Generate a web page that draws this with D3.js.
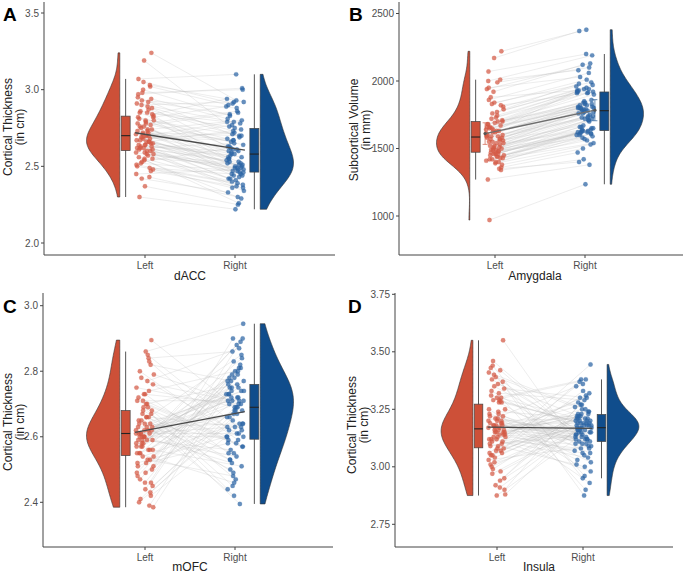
<!DOCTYPE html>
<html>
<head>
<meta charset="utf-8">
<script src="https://cdn.jsdelivr.net/npm/d3@7"></script>
<style>
  body { margin: 0; background: #fff; }
  text { font-family: "Liberation Sans", Arial, sans-serif; }
</style>
</head>
<body>
<svg id="chart" width="685" height="575"></svg>
<script>
// ---- data (paired by index: left[i] <-> right[i]) ----
const sides = ['Left', 'Right'];

const daccLeft = [2.71, 2.85, 2.62, 3.24, 2.55, 2.78, 2.66, 2.93, 2.48, 2.70,
  2.81, 2.60, 3.05, 2.67, 2.74, 2.52, 2.88, 2.64, 2.97, 2.43,
  2.69, 2.83, 2.58, 2.76, 2.65, 3.19, 2.50, 2.72, 2.90, 2.61,
  2.79, 2.56, 2.68, 3.00, 2.45, 2.73, 2.86, 2.63, 2.59, 2.95,
  2.70, 2.53, 2.82, 2.66, 2.30, 2.77, 2.62, 2.91, 2.57, 2.75,
  2.84, 2.64, 3.07, 2.49, 2.71, 2.80, 2.60, 2.67, 2.94, 2.54,
  2.73, 2.87, 2.42, 2.65, 2.78, 2.61, 3.02, 2.68, 2.51, 2.89,
  2.63, 2.74, 2.37, 2.82, 2.66, 2.98, 2.58, 2.70, 2.85, 2.47,
  2.76, 2.62, 2.92, 2.69, 2.55, 2.80, 2.64, 3.03, 2.72, 2.59];
const daccRight = [2.58, 2.79, 2.45, 2.93, 2.40, 2.52, 2.74, 2.88, 2.36, 2.63,
  2.70, 2.49, 2.91, 2.56, 2.80, 2.47, 2.61, 2.42, 3.01, 2.30,
  2.67, 2.55, 2.51, 2.85, 2.44, 2.76, 2.38, 2.60, 2.92, 2.53,
  2.64, 2.26, 2.72, 2.83, 2.48, 2.43, 2.75, 2.57, 2.34, 2.69,
  2.50, 2.62, 2.89, 2.46, 2.22, 2.66, 2.54, 2.78, 2.41, 2.59,
  2.94, 2.52, 3.10, 2.45, 2.68, 2.49, 2.37, 2.77, 2.81, 2.29,
  2.61, 2.71, 2.33, 2.56, 2.86, 2.47, 2.90, 2.50, 2.39, 2.73,
  2.60, 2.44, 2.25, 2.67, 2.55, 3.00, 2.48, 2.79, 2.63, 2.36,
  2.53, 2.65, 2.84, 2.46, 2.51, 2.58, 2.42, 2.92, 2.70, 2.49];

const amygLeft = [1610, 1745, 1450, 2220, 1520, 1680, 1400, 1830, 1560, 1490,
  1650, 1430, 1920, 1590, 1700, 1470, 1380, 1620, 2000, 1510,
  1550, 1790, 1440, 1660, 1340, 2170, 1580, 1480, 1720, 1600,
  1460, 1860, 1530, 1640, 1410, 1990, 1570, 1500, 1690, 1270,
  1630, 1420, 1810, 1540, 970, 1670, 1460, 1940, 1590, 1490,
  1710, 1390, 2070, 1560, 1620, 1450, 1770, 1520, 1360, 1840,
  1600, 1480, 1650, 1430, 1730, 1550, 2010, 1500, 1610, 1440,
  1880, 1580, 1470, 1680, 1350, 1760, 1540, 1630, 1420, 1820,
  1510, 1660, 1460, 1590, 1700, 1400, 1950, 1570, 1490, 1640];
const amygRight = [1790, 1920, 1640, 2380, 1630, 1920, 1610, 2010, 1780, 1620,
  1860, 1560, 2120, 1810, 1830, 1620, 1500, 1760, 2190, 1730,
  1670, 1980, 1590, 1915, 1420, 2370, 1740, 1710, 1940, 1800,
  1650, 2060, 1770, 1820, 1540, 2100, 1720, 1610, 1900, 1380,
  1840, 1620, 1960, 1750, 1235, 1800, 1600, 2130, 1790, 1660,
  1910, 1530, 2200, 1730, 1930, 1610, 1950, 1640, 1470, 1990,
  1820, 1580, 1800, 1650, 1910, 1760, 2080, 1720, 1780, 1630,
  1930, 1810, 1630, 1840, 1400, 1970, 1740, 1790, 1600, 1920,
  1710, 1850, 1660, 1770, 1940, 1570, 2030, 1800, 1700, 1830];
const amygErrHalf = [80, 78];

const mofcLeft = [2.62, 2.70, 2.55, 2.895, 2.60, 2.48, 2.66, 2.58, 2.76, 2.52,
  2.64, 2.43, 2.69, 2.57, 2.85, 2.61, 2.50, 2.73, 2.59, 2.39,
  2.67, 2.54, 2.63, 2.80, 2.46, 2.60, 2.71, 2.56, 2.65, 2.45,
  2.86, 2.61, 2.53, 2.68, 2.58, 2.77, 2.41, 2.62, 2.64, 2.51,
  2.74, 2.59, 2.385, 2.66, 2.55, 2.82, 2.60, 2.49, 2.69, 2.57,
  2.63, 2.44, 2.72, 2.61, 2.54, 2.79, 2.59, 2.47, 2.67, 2.62,
  2.52, 2.84, 2.60, 2.56, 2.70, 2.40, 2.64, 2.58, 2.75, 2.53,
  2.61, 2.68, 2.46, 2.63, 2.83, 2.57, 2.51, 2.66, 2.60, 2.42,
  2.73, 2.55, 2.62, 2.78, 2.59, 2.49, 2.65, 2.56, 2.71, 2.61];
const mofcRight = [2.74, 2.60, 2.81, 2.69, 2.52, 2.77, 2.63, 2.88, 2.71, 2.58,
  2.85, 2.67, 2.45, 2.76, 2.62, 2.72, 2.90, 2.55, 2.68, 2.79,
  2.49, 2.73, 2.64, 2.59, 2.83, 2.70, 2.57, 2.75, 2.42, 2.66,
  2.945, 2.61, 2.78, 2.53, 2.71, 2.87, 2.69, 2.50, 2.74, 2.64,
  2.80, 2.56, 2.73, 2.395, 2.68, 2.77, 2.60, 2.82, 2.47, 2.72,
  2.66, 2.89, 2.58, 2.75, 2.63, 2.70, 2.54, 2.79, 2.44, 2.74,
  2.61, 2.86, 2.71, 2.51, 2.76, 2.65, 2.59, 2.84, 2.69, 2.48,
  2.73, 2.57, 2.80, 2.67, 2.62, 2.90, 2.72, 2.55, 2.78, 2.64,
  2.70, 2.46, 2.75, 2.60, 2.81, 2.68, 2.53, 2.77, 2.71, 2.63];

const insulaLeft = [3.17, 3.28, 3.05, 3.55, 3.12, 3.22, 2.98, 3.40, 3.15, 3.09,
  3.33, 3.19, 2.92, 3.25, 3.14, 3.46, 3.08, 3.20, 3.01, 3.30,
  3.16, 2.88, 3.23, 3.11, 3.37, 3.18, 3.06, 3.42, 3.13, 2.95,
  3.21, 3.31, 3.10, 3.17, 3.03, 3.29, 3.44, 3.15, 2.875, 3.19,
  3.07, 3.35, 3.14, 3.24, 3.00, 3.18, 3.39, 3.12, 2.91, 3.29,
  3.16, 3.08, 3.43, 3.20, 3.04, 3.13, 3.32, 2.97, 3.22, 3.15,
  3.10, 3.285, 3.18, 2.90, 3.36, 3.12, 3.06, 3.21, 3.41, 3.17,
  2.99, 3.14, 3.30, 3.09, 3.19, 3.02, 3.25, 3.16, 3.38, 3.11,
  3.07, 3.23, 2.94, 3.18, 3.34, 3.13, 3.05, 3.28, 3.15, 3.20];
const insulaRight = [3.20, 3.10, 3.24, 3.05, 3.30, 3.14, 3.18, 2.96, 3.22, 3.35,
  3.08, 3.16, 3.27, 3.01, 3.19, 3.12, 3.38, 3.21, 3.15, 2.90,
  3.23, 3.17, 3.06, 3.31, 3.13, 3.19, 3.445, 3.10, 3.25, 3.16,
  3.02, 3.20, 3.14, 3.28, 3.09, 3.18, 2.95, 3.22, 3.17, 3.12,
  3.33, 3.15, 3.07, 3.21, 3.19, 3.11, 3.26, 3.04, 3.18, 3.37,
  3.13, 3.23, 2.875, 3.16, 3.20, 3.09, 3.29, 3.17, 3.12, 3.24,
  3.00, 3.19, 3.14, 3.32, 3.21, 3.08, 3.18, 2.93, 3.25, 3.15,
  3.22, 3.11, 3.38, 3.17, 3.03, 3.20, 3.13, 3.27, 3.16, 2.98,
  3.19, 3.10, 3.23, 3.15, 3.30, 3.06, 3.21, 3.18, 3.12, 3.36];

const daccTicks = [2.0, 2.5, 3.0, 3.5];
const amygTicks = [1000, 1500, 2000, 2500];
const mofcTicks = [2.4, 2.6, 2.8, 3.0];
const insulaTicks = [2.75, 3.00, 3.25, 3.50, 3.75];

// ---- layout per panel ----
const panels = [
  { tag: 'A', xLabel: 'dACC', yLabel: ['Cortical Thickness', '(in cm)'],
    left: daccLeft, right: daccRight, ticks: daccTicks, fmt: '.1f', err: null,
    plot: [44, 335, 2, 255], cats: [145, 235], yRef: [243, 13],
    yTitle: [8, 20, 127], xTitle: [190, 280], letter: [3, 21] },
  { tag: 'B', xLabel: 'Amygdala', yLabel: ['Subcortical Volume', '(in mm)'],
    left: amygLeft, right: amygRight, ticks: amygTicks, fmt: 'd', err: amygErrHalf,
    plot: [399, 683, 2, 255], cats: [495, 585], yRef: [216, 13.5],
    yTitle: [354, 366, 130], xTitle: [535, 280], letter: [349, 21] },
  { tag: 'C', xLabel: 'mOFC', yLabel: ['Cortical Thickness', '(in cm)'],
    left: mofcLeft, right: mofcRight, ticks: mofcTicks, fmt: '.1f', err: null,
    plot: [43, 333, 293, 547], cats: [145, 235], yRef: [502.3, 305.7],
    yTitle: [8, 20, 422], xTitle: [190, 571], letter: [3, 313] },
  { tag: 'D', xLabel: 'Insula', yLabel: ['Cortical Thickness', '(in cm)'],
    left: insulaLeft, right: insulaRight, ticks: insulaTicks, fmt: '.2f', err: null,
    plot: [395, 673, 293, 547], cats: [497, 583], yRef: [524.3, 294.3],
    yTitle: [352, 364, 425], xTitle: [539, 571], letter: [348, 313] }
];

const fillCol = ['#cd5038', '#104d8c'];
const pointCol = ['#d45a45', '#2d65a5'];
const svg = d3.select('#chart');

// gaussian kde, trimmed to the data range (bw.nrd0 with a mild adjust)
function kde(values) {
  const s = values.slice().sort(d3.ascending);
  const n = s.length;
  const iqr = d3.quantile(s, 0.75) - d3.quantile(s, 0.25);
  const bw = 1.25 * 0.9 * Math.min(d3.deviation(s), iqr / 1.34) * Math.pow(n, -0.2);
  const [lo, hi] = d3.extent(s);
  return d3.range(0, 121).map(i => {
    const y = lo + (hi - lo) * i / 120;
    const dens = d3.sum(s, v => Math.exp(-0.5 * ((y - v) / bw) ** 2)) / (n * bw * Math.sqrt(2 * Math.PI));
    return [y, dens];
  });
}

function boxStats(values) {
  const s = values.slice().sort(d3.ascending);
  const q1 = d3.quantile(s, 0.25), med = d3.quantile(s, 0.5), q3 = d3.quantile(s, 0.75);
  const iqr = q3 - q1;
  const lo = d3.min(s.filter(v => v >= q1 - 1.5 * iqr));
  const hi = d3.max(s.filter(v => v <= q3 + 1.5 * iqr));
  return { q1, med, q3, lo, hi };
}

panels.forEach(p => {
  const g = svg.append('g');
  const [px0, px1, py0, py1] = p.plot;
  const x = d3.scaleLinear().domain([1, 2]).range(p.cats);
  const y = d3.scaleLinear().domain([p.ticks[0], p.ticks[p.ticks.length - 1]]).range(p.yRef);
  const groups = [p.left, p.right];
  const dir = [-1, 1];

  // jitter offsets (x only)
  const jit = (i, k) => (((i * (k ? 0.7548777 : 0.6180340) + 0.31 * k) % 1) * 2 - 1) * 0.1;
  const px = (k, i) => x(1 + k + jit(i, k));

  // paired lines
  g.append('g').selectAll('line').data(p.left).join('line')
    .attr('x1', (d, i) => px(0, i)).attr('y1', d => y(d))
    .attr('x2', (d, i) => px(1, i)).attr('y2', (d, i) => y(p.right[i]))
    .attr('stroke', '#bdbdbd').attr('stroke-opacity', 0.45).attr('stroke-width', 0.6);

  // points
  groups.forEach((vals, k) => {
    g.append('g').selectAll('circle').data(vals).join('circle')
      .attr('cx', (d, i) => px(k, i)).attr('cy', d => y(d)).attr('r', 2.2)
      .attr('fill', pointCol[k]).attr('fill-opacity', 0.72)
      .attr('stroke', pointCol[k]).attr('stroke-opacity', 0.4).attr('stroke-width', 0.4);
  });

  // mean line
  const means = groups.map(v => d3.mean(v));
  const mx = [x(1 - 0.11), x(2 + 0.11)];
  g.append('line')
    .attr('x1', mx[0]).attr('y1', y(means[0])).attr('x2', mx[1]).attr('y2', y(means[1]))
    .attr('stroke', p.err ? '#6e6e6e' : '#4a4a4a').attr('stroke-width', 1.3);

  // error bars (panel B)
  if (p.err) {
    groups.forEach((v, k) => {
      const eg = g.append('g').attr('stroke', fillCol[k]).attr('stroke-width', 0.8).attr('stroke-opacity', 0.8);
      const ylo = y(means[k] - p.err[k]), yhi = y(means[k] + p.err[k]);
      eg.append('line').attr('x1', mx[k]).attr('x2', mx[k]).attr('y1', ylo).attr('y2', yhi);
      eg.append('line').attr('x1', mx[k] - 2.5).attr('x2', mx[k] + 2.5).attr('y1', ylo).attr('y2', ylo);
      eg.append('line').attr('x1', mx[k] - 2.5).attr('x2', mx[k] + 2.5).attr('y1', yhi).attr('y2', yhi);
      g.append('circle').attr('cx', mx[k]).attr('cy', y(means[k])).attr('r', 1.6).attr('fill', '#555');
    });
  }

  // flat violins
  groups.forEach((vals, k) => {
    const dens = kde(vals);
    const maxD = d3.max(dens, d => d[1]);
    const flat = x(1 + k + dir[k] * 0.28);
    const w = d3.scaleLinear().domain([0, maxD]).range([0, 0.37 * (p.cats[1] - p.cats[0])]);
    const area = d3.area()
      .x0(flat).x1(d => flat + dir[k] * w(d[1]))
      .y(d => y(d[0]));
    g.append('path').attr('d', area(dens))
      .attr('fill', fillCol[k]).attr('stroke', '#333').attr('stroke-width', 0.6);
  });

  // boxplots
  groups.forEach((vals, k) => {
    const b = boxStats(vals);
    const cx = x(1 + k + dir[k] * 0.215);
    const bw = 0.1 * (p.cats[1] - p.cats[0]);
    g.append('line').attr('x1', cx).attr('x2', cx).attr('y1', y(b.lo)).attr('y2', y(b.hi))
      .attr('stroke', '#555').attr('stroke-width', 1);
    g.append('rect').attr('x', cx - bw / 2).attr('width', bw)
      .attr('y', y(b.q3)).attr('height', y(b.q1) - y(b.q3))
      .attr('fill', fillCol[k]).attr('stroke', '#444').attr('stroke-width', 0.7);
    g.append('line').attr('x1', cx - bw / 2).attr('x2', cx + bw / 2)
      .attr('y1', y(b.med)).attr('y2', y(b.med))
      .attr('stroke', '#222').attr('stroke-width', 1.1);
  });

  // axes
  const ax = g.append('g').attr('stroke', '#444').attr('stroke-width', 1);
  ax.append('line').attr('x1', px0).attr('x2', px0).attr('y1', py0).attr('y2', py1);
  ax.append('line').attr('x1', px0).attr('x2', px1).attr('y1', py1).attr('y2', py1);
  const fmt = d3.format(p.fmt);
  p.ticks.forEach(t => {
    g.append('line').attr('x1', px0 - 3).attr('x2', px0).attr('y1', y(t)).attr('y2', y(t))
      .attr('stroke', '#444');
    g.append('text').attr('x', px0 - 5).attr('y', y(t)).attr('dy', '0.35em')
      .attr('text-anchor', 'end').attr('font-size', 10).attr('fill', '#4d4d4d').text(fmt(t));
  });
  sides.forEach((s, k) => {
    const xx = x(1 + k);
    g.append('line').attr('x1', xx).attr('x2', xx).attr('y1', py1).attr('y2', py1 + 3)
      .attr('stroke', '#444');
    g.append('text').attr('x', xx).attr('y', py1 + 14).attr('text-anchor', 'middle')
      .attr('font-size', 10).attr('fill', '#4d4d4d').text(s);
  });

  // titles
  g.append('text').attr('x', p.xTitle[0]).attr('y', p.xTitle[1]).attr('text-anchor', 'middle')
    .attr('font-size', 12).attr('fill', '#222').text(p.xLabel);
  p.yLabel.forEach((lab, j) => {
    g.append('text')
      .attr('transform', `translate(${p.yTitle[j] + 4},${p.yTitle[2]}) rotate(-90)`)
      .attr('text-anchor', 'middle').attr('font-size', 12).attr('fill', '#222').text(lab);
  });
  g.append('text').attr('x', p.letter[0]).attr('y', p.letter[1])
    .attr('font-size', 19).attr('font-weight', 'bold').attr('fill', '#000').text(p.tag);
});
</script>
</body>
</html>
